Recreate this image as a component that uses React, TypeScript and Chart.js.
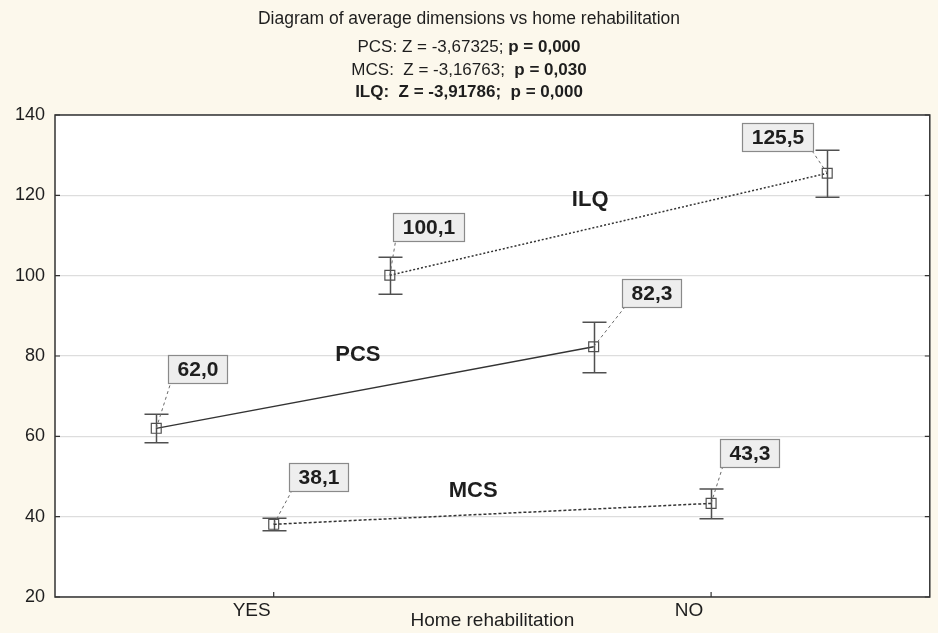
import { useEffect, useRef } from "react";
import { Chart, registerables } from "chart.js";
Chart.register(...registerables);

// ---------- data ----------
const categories = ["YES", "NO"];
const seriesNames = ["PCS", "MCS", "ILQ"];
const pcsMean = [62.0, 82.3];
const pcsUpper = [65.5, 88.4];
const pcsLower = [58.4, 75.8];
const mcsMean = [38.1, 43.3];
const mcsUpper = [39.6, 46.9];
const mcsLower = [36.5, 39.5];
const ilqMean = [100.1, 125.5];
const ilqUpper = [104.6, 131.2];
const ilqLower = [95.4, 119.5];
const yTickValues = [20, 40, 60, 80, 100, 120, 140];
const chartTitle = "Diagram of average dimensions vs home rehabilitation";
const statLines = [
  [{ t: "PCS: Z = -3,67325; ", b: false }, { t: "p = 0,000", b: true }],
  [{ t: "MCS:  Z = -3,16763;  ", b: false }, { t: "p = 0,030", b: true }],
  [{ t: "ILQ:  Z = -3,91786;  p = 0,000", b: true }],
];
const xAxisTitle = "Home rehabilitation";

// ---------- layout / style ----------
const categoryPos = [1, 3];
const seriesOffset = [-0.537, 0, 0.531];
const lineDash = [[], [3, 2], [2, 2]];
// label box offsets (px) relative to the point: [dx, dy, anchor]
const labelOffsets = [
  [[12, -73, "bl"], [28, -68, "bl"]],
  [[15, -61, "bl"], [9, -64, "bl"]],
  [[3, -62, "bl"], [-85, -50, "br"]],
];
const seriesLabelX = [1.385, 1.912, 2.447];
const seriesLabelY = [80.25, 46.3, 118.8];
const FONT = "'Liberation Sans', Arial, sans-serif";

const means = [pcsMean, mcsMean, ilqMean];
const uppers = [pcsUpper, mcsUpper, ilqUpper];
const lowers = [pcsLower, mcsLower, ilqLower];

const fmt = (v: number) => v.toFixed(1).replace(".", ",");

const decor = {
  id: "decor",
  beforeDraw(chart: any) {
    const { ctx, chartArea: a, width, height } = chart;
    ctx.save();
    ctx.fillStyle = "#FCF8EC";
    ctx.fillRect(0, 0, width, height);
    ctx.fillStyle = "#FFFFFF";
    ctx.fillRect(a.left, a.top, a.right - a.left, a.bottom - a.top);
    ctx.restore();
  },
  beforeDatasetsDraw(chart: any) {
    const { ctx, scales } = chart;
    const xs = scales.x, ys = scales.y;
    ctx.save();
    ctx.strokeStyle = "#505050";
    ctx.lineWidth = 1.5;
    means.forEach((m, s) => {
      m.forEach((_, i) => {
        const x = Math.round(xs.getPixelForValue(categoryPos[i] + seriesOffset[s])) + 0.5;
        const yu = ys.getPixelForValue(uppers[s][i]);
        const yl = ys.getPixelForValue(lowers[s][i]);
        ctx.beginPath();
        ctx.moveTo(x, yu); ctx.lineTo(x, yl);
        ctx.moveTo(x - 12, yu); ctx.lineTo(x + 12, yu);
        ctx.moveTo(x - 12, yl); ctx.lineTo(x + 12, yl);
        ctx.stroke();
      });
    });
    ctx.restore();
  },
  afterDatasetsDraw(chart: any) {
    const { ctx, scales, chartArea: a } = chart;
    const xs = scales.x, ys = scales.y;
    ctx.save();
    // frame
    ctx.strokeStyle = "#333333";
    ctx.lineWidth = 1.5;
    ctx.strokeRect(a.left, a.top, a.right - a.left, a.bottom - a.top);
    // inward ticks
    ctx.lineWidth = 1.2;
    ctx.beginPath();
    yTickValues.forEach((v) => {
      const y = ys.getPixelForValue(v);
      ctx.moveTo(a.left, y); ctx.lineTo(a.left + 5, y);
      ctx.moveTo(a.right, y); ctx.lineTo(a.right - 5, y);
    });
    categoryPos.forEach((v) => {
      const x = xs.getPixelForValue(v);
      ctx.moveTo(x, a.bottom); ctx.lineTo(x, a.bottom - 5);
    });
    ctx.stroke();

    // value labels
    ctx.font = `bold 21px ${FONT}`;
    means.forEach((m, s) => {
      m.forEach((v, i) => {
        const px = xs.getPixelForValue(categoryPos[i] + seriesOffset[s]);
        const py = ys.getPixelForValue(v);
        const [dx, dy, anchor] = labelOffsets[s][i] as [number, number, string];
        const text = fmt(v);
        const w = Math.round(ctx.measureText(text).width + 18);
        const h = 28;
        const bx = Math.round(px + dx) + 0.5;
        const by = Math.round(py + dy) + 0.5;
        const ex = anchor === "br" ? bx + w - 1 : bx + 2;
        const ey = by + h;
        ctx.save();
        ctx.strokeStyle = "#6A6A6A";
        ctx.lineWidth = 1;
        ctx.setLineDash([3, 3]);
        ctx.beginPath();
        ctx.moveTo(px, py); ctx.lineTo(ex, ey);
        ctx.stroke();
        ctx.restore();
        ctx.fillStyle = "#EEEEEE";
        ctx.fillRect(bx, by, w, h);
        ctx.strokeStyle = "#8A8A8A";
        ctx.lineWidth = 1.2;
        ctx.strokeRect(bx, by, w, h);
        ctx.fillStyle = "#1E1E1E";
        ctx.textAlign = "center";
        ctx.textBaseline = "middle";
        ctx.fillText(text, bx + w / 2, by + h / 2 + 1);
      });
    });

    // series labels
    ctx.font = `bold 22px ${FONT}`;
    ctx.fillStyle = "#1E1E1E";
    ctx.textAlign = "center";
    ctx.textBaseline = "middle";
    seriesNames.forEach((n, s) => {
      ctx.fillText(n, xs.getPixelForValue(seriesLabelX[s]), ys.getPixelForValue(seriesLabelY[s]));
    });
    ctx.restore();
  },
  afterDraw(chart: any) {
    const { ctx, width } = chart;
    const cx = width / 2;
    ctx.save();
    ctx.fillStyle = "#1E1E1E";
    ctx.textBaseline = "alphabetic";
    ctx.textAlign = "center";
    ctx.font = `17.5px ${FONT}`;
    ctx.fillText(chartTitle, cx, 24);
    const baselines = [52, 75, 97];
    statLines.forEach((runs, li) => {
      let total = 0;
      runs.forEach((r) => {
        ctx.font = `${r.b ? "bold " : ""}17px ${FONT}`;
        total += ctx.measureText(r.t).width;
      });
      let x = cx - total / 2;
      ctx.textAlign = "left";
      runs.forEach((r) => {
        ctx.font = `${r.b ? "bold " : ""}17px ${FONT}`;
        ctx.fillText(r.t, x, baselines[li]);
        x += ctx.measureText(r.t).width;
      });
    });
    ctx.restore();
  },
};

export default function App() {
  const ref = useRef<HTMLCanvasElement | null>(null);
  useEffect(() => {
    if (!ref.current) return;
    const datasets = means.map((m, s) => ({
      label: seriesNames[s],
      data: m.map((v, i) => ({ x: categoryPos[i] + seriesOffset[s], y: v })),
      borderColor: "#333333",
      borderWidth: s === 0 ? 1.3 : 1.5,
      borderDash: lineDash[s],
      pointStyle: "rect" as const,
      pointRadius: 7,
      pointBorderColor: "#505050",
      pointBorderWidth: 1.2,
      pointBackgroundColor: "rgba(255,255,255,0)",
      showLine: true,
      fill: false,
    }));
    const chart = new Chart(ref.current, {
      type: "scatter",
      data: { datasets },
      plugins: [decor],
      options: {
        animation: false,
        responsive: true,
        maintainAspectRatio: false,
        layout: { padding: { top: 115, right: 2, left: 0, bottom: 0 } },
        plugins: { legend: { display: false }, tooltip: { enabled: false }, title: { display: false } },
        scales: {
          x: {
            type: "linear",
            min: 0,
            max: 4,
            afterFit: (sc: any) => { sc.height = 36; },
            afterBuildTicks: (sc: any) => { sc.ticks = categoryPos.map((v) => ({ value: v })); },
            ticks: {
              callback: (v: any) => categories[categoryPos.indexOf(Number(v))] ?? "",
              font: { family: FONT, size: 19 },
              color: "#1E1E1E",
              padding: 2,
              labelOffset: -22,
              maxRotation: 0,
            },
            grid: { display: false, drawTicks: false },
            border: { display: false },
            title: { display: true, text: xAxisTitle, font: { family: FONT, size: 19 }, color: "#1E1E1E", padding: { top: 0, bottom: 1 } },
          },
          y: {
            type: "linear",
            min: 20,
            max: 140,
            afterFit: (sc: any) => { sc.width = 55; },
            afterBuildTicks: (sc: any) => { sc.ticks = yTickValues.map((v) => ({ value: v })); },
            ticks: { font: { family: FONT, size: 18 }, color: "#1E1E1E", padding: 10 },
            grid: { color: "#DDDDDD", lineWidth: 1.2, drawTicks: false },
            border: { display: false },
          },
        },
      },
    });
    return () => chart.destroy();
  }, []);
  return (
    <div style={{ position: "fixed", left: 0, top: 0, width: 938, height: 633 }}>
      <canvas ref={ref} />
    </div>
  );
}
